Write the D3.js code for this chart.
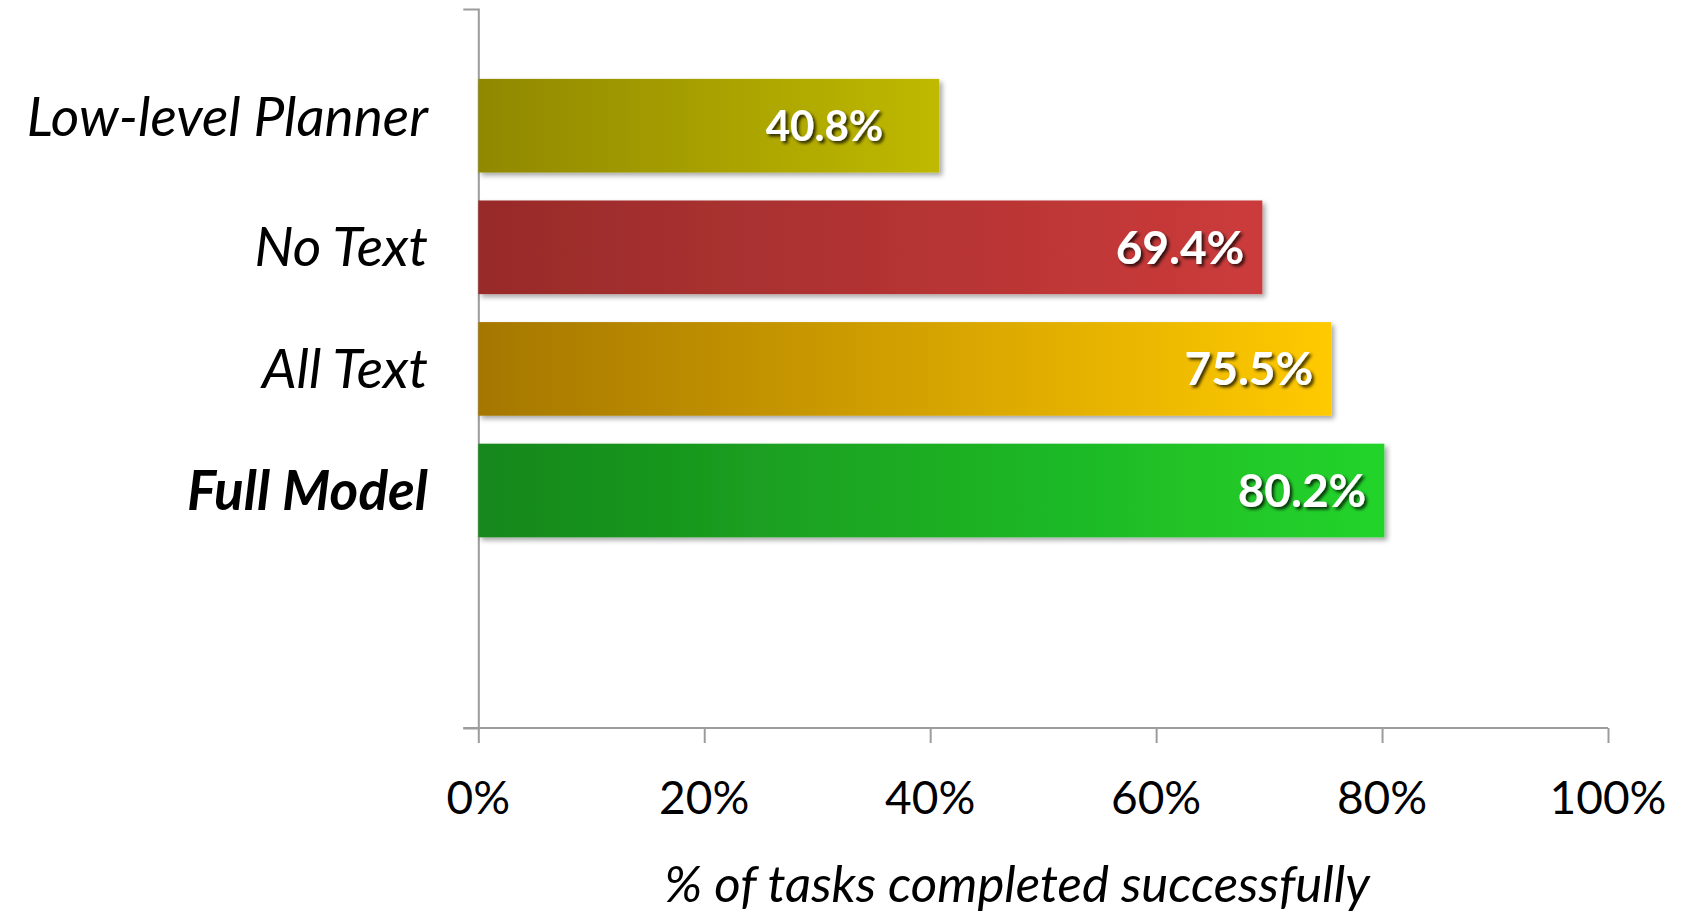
<!DOCTYPE html>
<html>
<head>
<meta charset="utf-8">
<script src="https://cdn.jsdelivr.net/npm/d3@7/dist/d3.min.js"></script>
<style>
  html, body { margin: 0; padding: 0; background: #fff; }
  svg { display: block; font-family: Lato, "Open Sans", sans-serif; }
</style>
</head>
<body>
<svg id="chart" width="1687" height="912"></svg>
<script>
// Task success rate per model variant
const categories = ["Low-level Planner", "No Text", "All Text", "Full Model"];
const successRate = [40.8, 69.4, 75.5, 80.2];
const valueLabels = ["40.8%", "69.4%", "75.5%", "80.2%"];
const xTickValues = [0, 20, 40, 60, 80, 100];
const xTickLabels = ["0%", "20%", "40%", "60%", "80%", "100%"];
const axisTitle = "% of tasks completed successfully";

// Gradient stops (dark left edge -> bright right edge) per bar
const barGradients = [
  ["#908800", "#bfb900"],
  ["#982b2a", "#cc3b3b"],
  ["#a57700", "#ffca00"],
  ["#16871b", "#23d42b"]
];

const svg = d3.select("#chart");
const defs = svg.append("defs");

const plot = { left: 478.3, right: 1608, top: 9, bottom: 728 };

const x = d3.scaleLinear().domain([0, 100]).range([plot.left, plot.right]);
const y = d3.scaleBand()
  .domain(categories)
  .range([64.9, 551.3])
  .paddingInner(0.23)
  .paddingOuter(0.115);
const yLine = d3.scaleLinear().domain([0, 1]).range([plot.bottom, plot.top]);

// Gradients
categories.forEach((c, i) => {
  const g = defs.append("linearGradient")
    .attr("id", "grad" + i)
    .attr("x1", "0%").attr("x2", "100%").attr("y1", "0%").attr("y2", "0%");
  g.append("stop").attr("offset", "0%").attr("stop-color", barGradients[i][0]);
  g.append("stop").attr("offset", "100%").attr("stop-color", barGradients[i][1]);
});

// Soft shadow under bars
const barShadow = defs.append("filter").attr("id", "barShadow")
  .attr("x", "-5%").attr("y", "-10%").attr("width", "115%").attr("height", "130%");
barShadow.append("feDropShadow")
  .attr("dx", 3).attr("dy", 3).attr("stdDeviation", 2.5)
  .attr("flood-color", "#000").attr("flood-opacity", 0.35);

// Dark shadow behind white value labels
const textShadow = defs.append("filter").attr("id", "textShadow")
  .attr("x", "-10%").attr("y", "-20%").attr("width", "130%").attr("height", "150%");
textShadow.append("feDropShadow")
  .attr("dx", 2.5).attr("dy", 2.5).attr("stdDeviation", 1.8)
  .attr("flood-color", "#000").attr("flood-opacity", 0.75);

// Axes
const xAxis = d3.axisBottom(x)
  .tickValues(xTickValues)
  .tickFormat("")
  .tickSizeInner(15)
  .tickSizeOuter(0);
const gx = svg.append("g")
  .attr("transform", `translate(0,${plot.bottom})`)
  .call(xAxis);
gx.select(".domain").remove();
gx.selectAll(".tick line").attr("stroke", "#9c9c9c").attr("stroke-width", 2);

const yAxis = d3.axisLeft(yLine).tickValues([]).tickSizeOuter(15);
const gy = svg.append("g")
  .attr("transform", `translate(${plot.left},0)`)
  .call(yAxis);
gy.select(".domain").attr("stroke", "#9c9c9c").attr("stroke-width", 2).attr("fill", "none");

// Bottom axis baseline
svg.append("line")
  .attr("x1", plot.left - 15).attr("x2", x(100))
  .attr("y1", plot.bottom).attr("y2", plot.bottom)
  .attr("stroke", "#9c9c9c").attr("stroke-width", 2);

// Tick labels
svg.append("g").selectAll("text")
  .data(xTickValues)
  .join("text")
  .attr("x", d => x(d))
  .attr("y", 814)
  .attr("text-anchor", "middle")
  .attr("font-size", 46)
  .attr("fill", "#000")
  .text((d, i) => xTickLabels[i]);

// Axis title
svg.append("text")
  .attr("x", 1017)
  .attr("y", 902)
  .attr("text-anchor", "middle")
  .attr("font-size", 51)
  .attr("font-style", "italic")
  .attr("fill", "#000")
  .text(axisTitle);

// Bars
const rows = categories.map((c, i) => ({ cat: c, value: successRate[i], label: valueLabels[i], i }));

svg.append("g").selectAll("rect")
  .data(rows)
  .join("rect")
  .attr("x", x(0))
  .attr("y", d => y(d.cat))
  .attr("width", d => x(d.value) - x(0))
  .attr("height", y.bandwidth())
  .attr("fill", d => `url(#grad${d.i})`)
  .attr("filter", "url(#barShadow)");

// Category labels
svg.append("g").selectAll("text")
  .data(rows)
  .join("text")
  .attr("x", 428)
  .attr("y", d => y(d.cat) + y.bandwidth() / 2 + (d.i === 0 ? 10 : 19))
  .attr("text-anchor", "end")
  .attr("font-size", 55)
  .attr("font-style", "italic")
  .attr("font-weight", d => d.cat === "Full Model" ? 700 : 400)
  .attr("fill", "#000")
  .text(d => d.cat);

// Value labels inside bar ends; the short bar carries a smaller, inset label
const labelStyle = d => d.i === 0 ? { size: 42, inset: 56 } : { size: 46, inset: 18 };
svg.append("g").selectAll("text")
  .data(rows)
  .join("text")
  .attr("x", d => x(d.value) - labelStyle(d).inset)
  .attr("y", d => y(d.cat) + y.bandwidth() / 2 + labelStyle(d).size * 0.36)
  .attr("text-anchor", "end")
  .attr("font-size", d => labelStyle(d).size)
  .attr("font-weight", 700)
  .attr("fill", "#fff")
  .attr("filter", "url(#textShadow)")
  .text(d => d.label);
</script>
</body>
</html>
